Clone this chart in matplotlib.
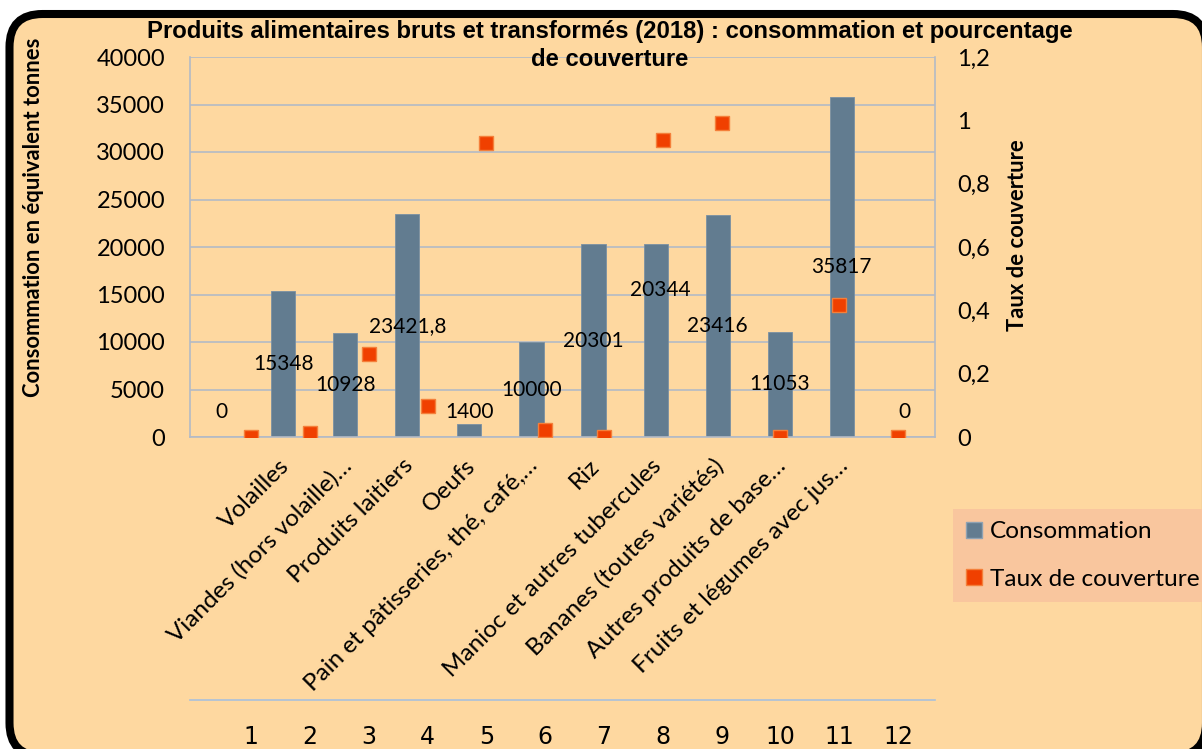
import numpy as np
import matplotlib.pyplot as plt
from matplotlib.patches import FancyBboxPatch
from matplotlib.lines import Line2D
from matplotlib.transforms import ScaledTranslation

# data
categories = [
    "",
    "Volailles",
    "Viandes (hors volaille)…",
    "Produits laitiers",
    "Oeufs",
    "Pain et pâtisseries, thé, café,…",
    "Riz",
    "Manioc et autres tubercules",
    "Bananes (toutes variétés)",
    "Autres produits de base…",
    "Fruits et légumes avec jus…",
    "",
]
conso = np.array([0, 15348, 10928, 23421.8, 1400, 10000, 20301, 20344, 23416, 11053, 35817, 0])
conso_labels = ["0", "15348", "10928", "23421,8", "1400", "10000", "20301",
                "20344", "23416", "11053", "35817", "0"]
taux_x = np.arange(1, 13)
taux = np.array([0, 0.013, 0.262, 0.098, 0.928, 0.022, 0.0, 0.938, 0.991, 0.0, 0.417, 0])

W, H = 1202, 749
BG = "#FED8A0"
BAR = "#627C90"
ORANGE = "#F04000"
GRID = "#B3BAC6"
FONT = "Lato"

fig = plt.figure(figsize=(W / 100, H / 100), dpi=100, facecolor="white")

# rounded black frame around the chart (runs off the right and bottom edges)
frame = FancyBboxPatch((0.095, -0.07), 11.965, 7.42,
                       boxstyle="round,pad=0,rounding_size=0.33",
                       transform=fig.dpi_scale_trans, facecolor=BG,
                       edgecolor="black", linewidth=5.8, zorder=-5)
fig.patches.append(frame)

rect = [190 / W, 1 - 437 / H, 745 / W, 380 / H]
ax = fig.add_axes(rect)
ax.set_facecolor("none")

x = np.arange(len(categories))
ax.bar(x, conso, width=0.39, color=BAR, edgecolor="#7A90A3", linewidth=0.6, zorder=2)
ax.set_xlim(-0.5, 11.5)
ax.set_ylim(0, 40000)
ax.set_yticks(np.arange(0, 40001, 5000))
ax.yaxis.grid(True, color=GRID, linewidth=1.2, zorder=0)
ax.set_axisbelow(True)
ax.tick_params(axis="y", length=0, pad=18, labelsize=17)
ax.set_xticks(x)
ax.set_xticklabels(categories, rotation=45, ha="right", rotation_mode="anchor",
                   fontsize=17.5, family=FONT)
ax.tick_params(axis="x", length=0, pad=13)
shift = ScaledTranslation(-5 / 100, 0, fig.dpi_scale_trans)
for lab in ax.get_xticklabels():
    lab.set_transform(lab.get_transform() + shift)
for lab in ax.get_yticklabels():
    lab.set_family(FONT)
for s in ["left", "right", "bottom"]:
    ax.spines[s].set_color(GRID)
    ax.spines[s].set_linewidth(1.2)
ax.spines["top"].set_visible(False)

# data labels: centre of the bar, small ones lifted; 20344 was moved by hand
label_y = np.maximum(conso / 2, 2600)
label_y[7] = 15500
for xi, yi, t in zip(x, label_y, conso_labels):
    dx = 0.08 if t == "20344" else 0
    ax.text(xi + dx, yi, t, ha="center", va="center", fontsize=15, family=FONT, zorder=3)

ax.set_ylabel("Consommation en équivalent tonnes", fontsize=15.8, fontweight="bold",
              family=FONT)
ax.yaxis.set_label_coords(-0.196, 0.579)

# secondary axes for the coverage rate
ax2 = fig.add_axes(rect, label="secondary")
ax2.set_facecolor("none")
ax2.plot(taux_x, taux, linestyle="none", marker="s", markersize=10,
         markerfacecolor=ORANGE, markeredgecolor="#F47F3A", markeredgewidth=1, zorder=4)
ax2.set_xlim(-0.04, 12.63)
ax2.set_ylim(0, 1.2)
ax2.set_xticks(taux_x)
ax2.set_yticks(np.arange(0, 1.21, 0.2))
ax2.set_yticklabels(["0", "0,2", "0,4", "0,6", "0,8", "1", "1,2"])
ax2.yaxis.tick_right()
ax2.yaxis.set_label_position("right")
ax2.tick_params(axis="y", length=0, pad=16, labelsize=17)
ax2.tick_params(axis="x", length=0, pad=18, labelsize=17)
for lab in ax2.get_yticklabels() + ax2.get_xticklabels():
    lab.set_family(FONT)
for s in ["left", "right", "top"]:
    ax2.spines[s].set_visible(False)
ax2.spines["bottom"].set_position(("outward", 263 * 0.72))
ax2.spines["bottom"].set_color("#A9C0DC")
ax2.spines["bottom"].set_linewidth(1.2)
ax2.set_ylabel("Taux de couverture", fontsize=15.8, fontweight="bold", family=FONT)
ax2.yaxis.set_label_coords(1.097, 0.532)

fig.text(610 / W, 1 - 20 / H,
         "Produits alimentaires bruts et transformés (2018) : consommation et pourcentage\nde couverture",
         ha="center", va="top", fontsize=17.2, fontweight="bold",
         family="Liberation Sans", linespacing=1.25)

handles = [
    Line2D([], [], linestyle="none", marker="s", markersize=11,
           markerfacecolor=BAR, markeredgecolor="#8FA2B3"),
    Line2D([], [], linestyle="none", marker="s", markersize=11,
           markerfacecolor=ORANGE, markeredgecolor="#F47F3A"),
]
leg = fig.legend(handles, ["Consommation", "Taux de couverture"],
                 loc="upper left", bbox_to_anchor=(953 / W, 1 - 509 / H),
                 borderaxespad=0, frameon=True, facecolor="#F9C69E",
                 edgecolor="none", fancybox=False, framealpha=1,
                 handlelength=0.7, handletextpad=0.3, labelspacing=1.08,
                 borderpad=0.5, prop={"family": FONT, "size": 17.6})

fig.savefig("out.png", dpi=100, facecolor="white")
